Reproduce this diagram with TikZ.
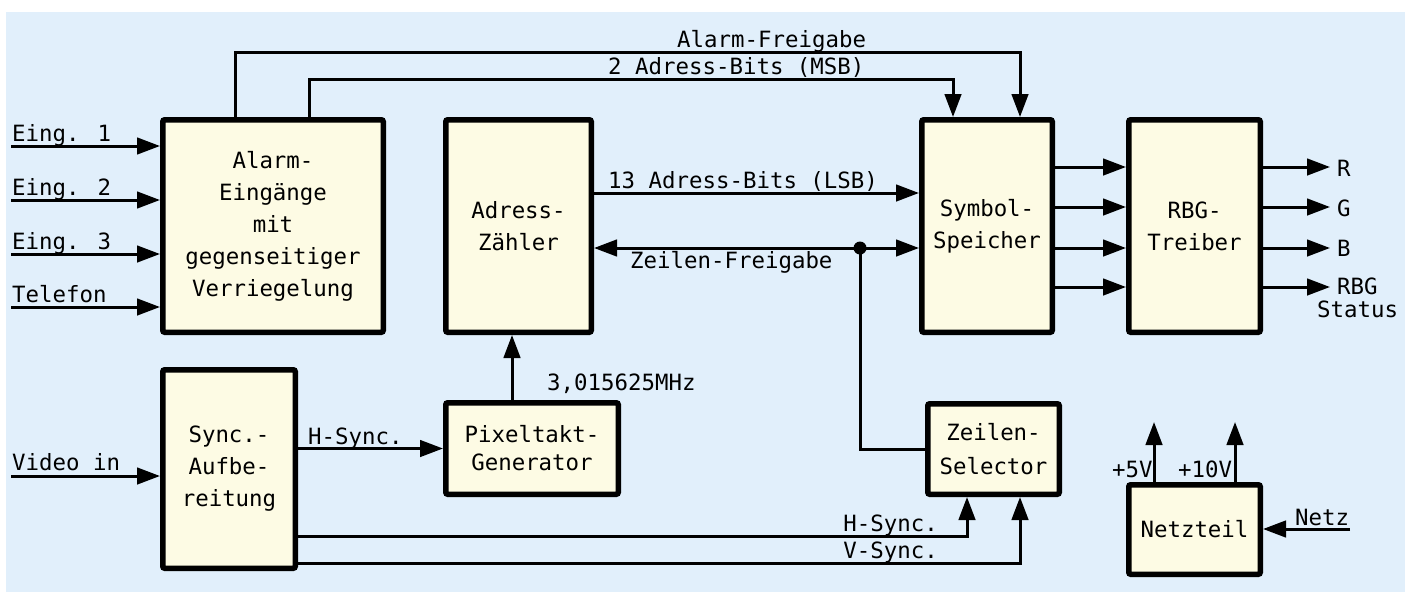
\documentclass[tikz,border=0pt]{standalone}
\usepackage{fontspec}
\newfontfamily\din{DejaVu Sans Mono}
\usetikzlibrary{arrows.meta}
\definecolor{panel}{RGB}{225,239,251}
\definecolor{boxfill}{RGB}{253,251,228}
\begin{document}
\begin{tikzpicture}[x=1pt,y=-1pt,
  every node/.style={font=\din\fontsize{22.4}{32}\selectfont, inner sep=0pt},
  block/.style={draw, line width=5.5pt, fill=boxfill, rounded corners=2pt, align=center},
  conn/.style={line width=3pt},
  arr/.style={conn, -{Triangle[length=23pt,width=16.5pt]}},
  arrboth/.style={conn, {Triangle[length=23pt,width=16.5pt]}-{Triangle[length=23pt,width=16.5pt]}},
  lbl/.style={anchor=base west},
  lblr/.style={anchor=base east},
]
\useasboundingbox (0,0) rectangle (1412,592);
\fill[panel] (6,12) rectangle (1405,592);

% function blocks
\node[block, minimum width=220.5pt, minimum height=212.5pt] (alarm) at (273,226)
  {Alarm-\\Eingänge\\mit\\gegenseitiger\\Verriegelung};
\node[block, minimum width=145.5pt, minimum height=212.5pt] (adr) at (518.5,226)
  {Adress-\\Zähler};
\node[block, minimum width=130.5pt, minimum height=212.5pt] (sym) at (987,226)
  {Symbol-\\Speicher};
\node[block, minimum width=131.5pt, minimum height=212.5pt] (rbg) at (1194.5,226)
  {RBG-\\Treiber};
\node[block, minimum width=132.5pt, minimum height=198.5pt] (sync) at (229,469)
  {Sync.-\\Aufbe-\\reitung};
\node[block, minimum width=172.5pt, minimum height=91.5pt,
      font=\din\fontsize{22.4}{28}\selectfont] (pix) at (532,448.5)
  {Pixeltakt-\\Generator};
\node[block, minimum width=131.5pt, minimum height=90.5pt,
      font=\din\fontsize{22.4}{34}\selectfont] (zsel) at (993.5,449)
  {Zeilen-\\Selector};
\node[block, minimum width=131.5pt, minimum height=89.5pt] (netz) at (1194.5,529.5)
  {Netzteil};

% free ends and bend points
\coordinate (in1) at (11,146);
\coordinate (in2) at (11,200);
\coordinate (in3) at (11,254);
\coordinate (in4) at (11,307);
\coordinate (vin) at (11,476);
\coordinate (afA) at (235,52);
\coordinate (afB) at (1020,52);
\coordinate (msbA) at (309,79);
\coordinate (msbB) at (953,79);
\coordinate (lsb) at (700,193);
\coordinate (zf) at (860,248);
\coordinate (clk) at (512,0);
\coordinate (hs) at (967,536);
\coordinate (vs) at (1020,563);
\coordinate (o1) at (1330,167);
\coordinate (o2) at (1330,207);
\coordinate (o3) at (1330,248);
\coordinate (o4) at (1330,287);
\coordinate (p5) at (1154,422);
\coordinate (p10) at (1235,422);
\coordinate (mains) at (1350,529);

% inputs
\draw[arr] (in1) -- (in1 -| alarm.west);
\draw[arr] (in2) -- (in2 -| alarm.west);
\draw[arr] (in3) -- (in3 -| alarm.west);
\draw[arr] (in4) -- (in4 -| alarm.west);
\draw[arr] (vin) -- (vin -| sync.west);

% alarm lines to the symbol memory
\draw[arr] (alarm.north -| afA) -- (afA) -- (afB) -- (sym.north -| afB);
\draw[arr] (alarm.north -| msbA) -- (msbA) -- (msbB) -- (sym.north -| msbB);

% address counter to symbol memory
\draw[arr] (adr.east |- lsb) -- (sym.west |- lsb);
\draw[arrboth] (adr.east |- zf) -- (sym.west |- zf);
\fill (zf) circle (6.5pt);
\draw[conn] (zf) |- (zsel.west);

% clock
\draw[arr] (pix.north -| clk) -- (adr.south -| clk);
\draw[arr] (sync.east |- pix.west) -- (pix.west);

% sync lines to the line selector
\draw[arr] (sync.east |- hs) -- (hs) -- (zsel.south -| hs);
\draw[arr] (sync.east |- vs) -- (vs) -- (zsel.south -| vs);

% symbol memory to driver, driver outputs
\foreach \o in {o1,o2,o3,o4} {
  \draw[arr] (sym.east |- \o) -- (rbg.west |- \o);
  \draw[arr] (rbg.east |- \o) -- (\o);
}

% power supply
\draw[arr] (netz.north -| p5) -- (p5);
\draw[arr] (netz.north -| p10) -- (p10);
\draw[arr] (mains) -- (mains -| netz.east);

% signal labels
\node[lbl] (tin1) at (12,141) {Eing. 1};
\node[lbl] (tin2) at (12,195) {Eing. 2};
\node[lbl] (tin3) at (12,249) {Eing. 3};
\node[lbl] (tin4) at (12,302) {Telefon};
\node[lbl] (tvin) at (12,470) {Video in};
\node[lbl] (taf) at (677,47) {Alarm-Freigabe};
\node[lbl] (tmsb) at (608,74) {2 Adress-Bits (MSB)};
\node[lbl] (tlsb) at (608,188) {13 Adress-Bits (LSB)};
\node[lbl] (tzf) at (630,268) {Zeilen-Freigabe};
\node[lbl] (thsa) at (308,444) {H-Sync.};
\node[lbl] (tclk) at (547,390) {3,015625MHz};
\node[lblr] (thsb) at (938,531) {H-Sync.};
\node[lblr] (tvs) at (938,558) {V-Sync.};
\node[lbl] (tr) at (1337,176) {R};
\node[lbl] (tg) at (1337,216) {G};
\node[lbl] (tb) at (1337,256) {B};
\node[lbl] (tst) at (1337,294) {RBG};
\node[lbl] (tst2) at (1317,317) {Status};
\node[lbl] (t5) at (1112,477) {+5V};
\node[lbl] (t10) at (1178,477) {+10V};
\node[lbl] (tnetz) at (1295,525) {Netz};
\end{tikzpicture}
\end{document}
